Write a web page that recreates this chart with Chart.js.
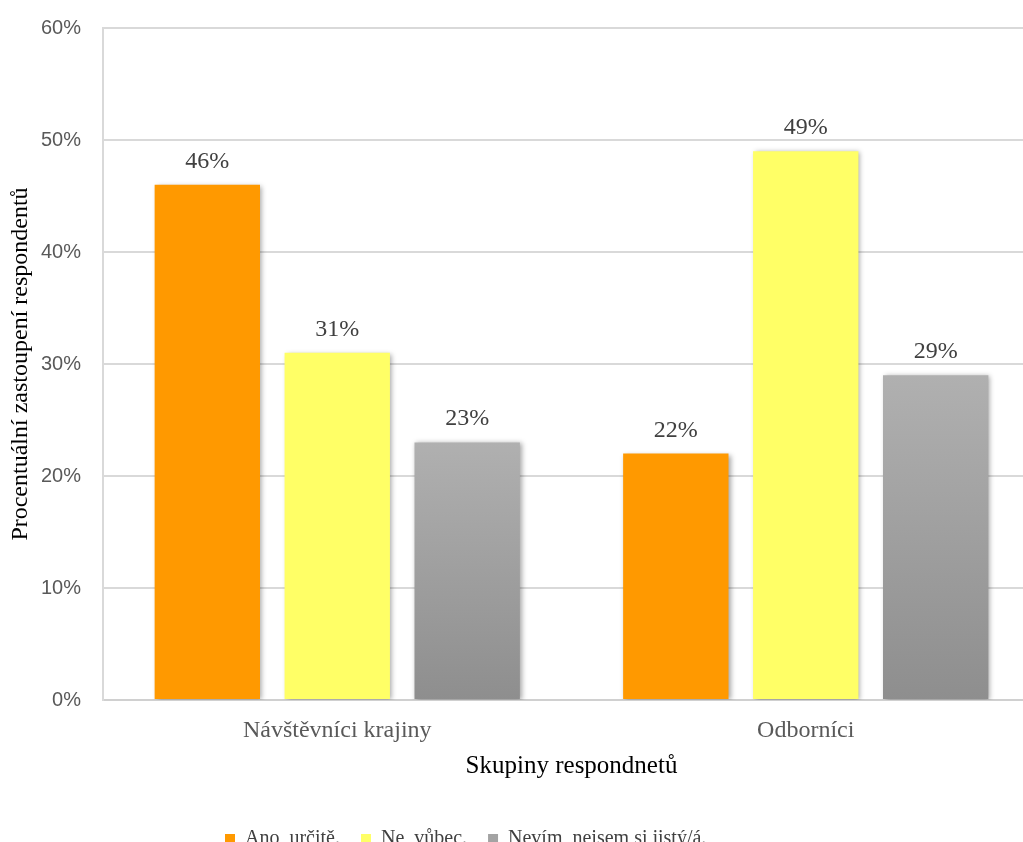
<!DOCTYPE html>
<html>
<head>
<meta charset="utf-8">
<script src="https://cdn.jsdelivr.net/npm/chart.js@4.4.1/dist/chart.umd.min.js"></script>
<style>
  html, body { margin: 0; padding: 0; background: #ffffff; overflow: hidden; }
  #wrap { position: absolute; left: 0; top: 0; width: 1040px; height: 859px; }
</style>
</head>
<body>
<div id="wrap"><canvas id="c" width="1040" height="859"></canvas></div>
<script>
const categories = ["Návštěvníci krajiny", "Odborníci"];
const seriesNames = ["Ano, určitě.", "Ne, vůbec.", "Nevím, nejsem si jistý/á."];
const anoValues = [46, 22];
const neValues = [31, 49];
const nevimValues = [23, 29];
const yTicks = [0, 10, 20, 30, 40, 50, 60];
const xTitle = "Skupiny respondnetů";
const yTitle = "Procentuální zastoupení respondentů";

const SERIF = "'Liberation Serif', 'Times New Roman', serif";
const SANS = "'Liberation Sans', Arial, sans-serif";

function grayFill(ctx) {
  const chart = ctx.chart;
  if (ctx.type !== 'data' || !chart.chartArea || !chart.scales.y) return '#a3a3a3';
  const ys = chart.scales.y;
  const top = ys.getPixelForValue(ctx.raw);
  const bottom = ys.getPixelForValue(0);
  if (!isFinite(top) || !isFinite(bottom) || top === bottom) return '#a3a3a3';
  const g = chart.ctx.createLinearGradient(0, top, 0, bottom);
  g.addColorStop(0, '#b0b0b0');
  g.addColorStop(1, '#8e8e8e');
  return g;
}

const shadowPlugin = {
  id: 'barShadow',
  beforeDatasetsDraw(chart) {
    const c = chart.ctx;
    c.save();
    c.shadowColor = 'rgba(0,0,0,0.35)';
    c.shadowBlur = 5;
    c.shadowOffsetX = 2;
    c.shadowOffsetY = 1;
  },
  afterDatasetsDraw(chart) {
    chart.ctx.restore();
  }
};

const valueLabels = {
  id: 'valueLabels',
  afterDatasetsDraw(chart) {
    const c = chart.ctx;
    c.save();
    c.font = "24px " + SERIF;
    c.fillStyle = '#404040';
    c.textAlign = 'center';
    c.textBaseline = 'alphabetic';
    chart.data.datasets.forEach((ds, di) => {
      const meta = chart.getDatasetMeta(di);
      meta.data.forEach((bar, i) => {
        c.fillText(ds.data[i] + '%', bar.x, bar.y - 17);
      });
    });
    c.restore();
  }
};

const legendPlace = {
  id: 'legendPlace',
  afterLayout(chart) {
    if (chart.legend) { chart.legend.left = 204; }
  }
};

new Chart(document.getElementById('c'), {
  type: 'bar',
  data: {
    labels: categories,
    datasets: [
      { label: seriesNames[0], data: anoValues, backgroundColor: '#ff9900' },
      { label: seriesNames[1], data: neValues, backgroundColor: '#ffff66' },
      { label: seriesNames[2], data: nevimValues, backgroundColor: grayFill }
    ]
  },
  options: {
    responsive: false,
    animation: false,
    devicePixelRatio: 1,
    layout: { padding: { top: 28, left: 0, right: 0, bottom: 0 } },
    datasets: { bar: { categoryPercentage: 0.832, barPercentage: 0.811 } },
    plugins: {
      legend: {
        position: 'bottom',
        align: 'start',
        labels: {
          font: { family: SERIF, size: 20 },
          color: '#404040',
          boxWidth: 10,
          boxHeight: 10,
          padding: 21,
          generateLabels(chart) {
            const fills = ['#ff9900', '#ffff66', '#a3a3a3'];
            return chart.data.datasets.map((ds, i) => ({
              text: ds.label, fillStyle: fills[i], strokeStyle: fills[i], lineWidth: 0,
              hidden: false, datasetIndex: i, fontColor: '#404040'
            }));
          }
        }
      },
      tooltip: { enabled: false },
      title: { display: false }
    },
    scales: {
      x: {
        grid: { display: false, drawTicks: false },
        border: { display: true, color: '#d0d0d0', width: 2 },
        ticks: { font: { family: SERIF, size: 24 }, color: '#595959', padding: 16 },
        title: {
          display: true, text: xTitle,
          font: { family: SERIF, size: 25 }, color: '#000000',
          padding: { top: 0, bottom: 27 }
        },
        afterFit(scale) { scale.height = 108; scale.paddingLeft = 0; scale.paddingRight = 0; }
      },
      y: {
        min: 0, max: 60,
        afterBuildTicks(scale) { scale.ticks = yTicks.map(v => ({ value: v })); },
        grid: { color: '#d9d9d9', lineWidth: 2, drawTicks: false },
        border: { display: true, color: '#d9d9d9', width: 2 },
        ticks: {
          font: { family: SANS, size: 20 }, color: '#595959', padding: 22,
          callback: v => v + '%'
        },
        title: {
          display: true, text: yTitle,
          font: { family: SERIF, size: 24 }, color: '#000000',
          padding: { top: 6, bottom: 0 }
        },
        afterFit(scale) { scale.width = 103; scale.paddingTop = 0; scale.paddingBottom = 0; }
      }
    }
  },
  plugins: [shadowPlugin, valueLabels, legendPlace]
});
</script>
</body>
</html>
